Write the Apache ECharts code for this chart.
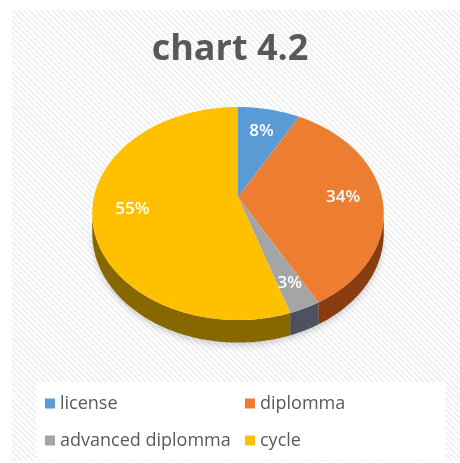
<!DOCTYPE html>
<html>
<head>
<meta charset="utf-8">
<title>chart 4.2</title>
<script src="https://cdn.jsdelivr.net/npm/echarts@6/dist/echarts.min.js"></script>
<style>
  html, body { margin: 0; padding: 0; background: #fff; }
  .frame {
    position: absolute; left: 12px; top: 10px; width: 448px; height: 451px;
    background: repeating-linear-gradient(45deg, #ffffff 0px, #ffffff 2px, #f1f1f1 2px, #f1f1f1 4px);
  }
  #main { position: absolute; left: 0; top: 0; width: 460px; height: 463px; }
</style>
</head>
<body>
<div class="frame"></div>
<div id="main"></div>
<script>
// data (percent of total)
var categories = ['license', 'diplomma', 'advanced diplomma', 'cycle']
var shares = [8, 34, 3, 55]

// office palette, top face and darker side wall
var topColors = ['#5b9bd5', '#ed7d31', '#a5a5a5', '#ffc000']
var sideColors = ['#2e5f8c', '#8b3d12', '#4d535e', '#876700']

// tilted pie geometry (perspective)
var CX = 238, CY = 197, RX = 144, RY = 104, K = 0.155, DEPTH = 19

function project(theta, r, drop) {
  var u = r * Math.sin(theta)
  var v = -r * Math.cos(theta)
  var s = 1 / (1 - K * v)
  return [CX + RX * u * s, CY + RY * v * s + (drop || 0) * s]
}

function arc(a0, a1, drop) {
  var pts = []
  var n = Math.max(2, Math.ceil((a1 - a0) / 0.02))
  for (var j = 0; j <= n; j++) {
    pts.push(project(a0 + (a1 - a0) * j / n, 1, drop))
  }
  return pts
}

var total = shares.reduce(function(a, b) { return a + b }, 0)
var visFrom = Math.acos(-K)
var visTo = Math.PI * 2 - visFrom

function renderSlice(params, api) {
  var i = params.seriesIndex
  var before = 0
  for (var j = 0; j < i; j++) before += shares[j]
  var a0 = before / total * Math.PI * 2
  var a1 = (before + api.value(0)) / total * Math.PI * 2
  var children = []

  // side wall, only the part facing the viewer
  var s0 = Math.max(a0, visFrom)
  var s1 = Math.min(a1, visTo)
  if (s1 > s0) {
    var upper = arc(s0, s1, 0)
    var lower = arc(s0, s1, DEPTH).reverse()
    children.push({
      type: 'polygon',
      shape: { points: upper.concat(lower) },
      style: {
        fill: sideColors[i],
        shadowBlur: 6,
        shadowOffsetY: 3,
        shadowColor: 'rgba(0,0,0,0.18)'
      }
    })
  }

  // top face
  children.push({
    type: 'polygon',
    shape: { points: [project(0, 0, 0)].concat(arc(a0, a1, 0)) },
    style: { fill: topColors[i] }
  })

  // label, thin slices sit a bit further out
  var mid = (a0 + a1) / 2
  var r = (a1 - a0) < 0.3 ? 0.8 : 0.73
  var p = project(mid, r, 0)
  children.push({
    type: 'text',
    x: p[0],
    y: p[1],
    style: {
      text: Math.round(api.value(0) / total * 100) + '%',
      fill: '#ffffff',
      font: '600 17px "Open Sans"',
      align: 'center',
      verticalAlign: 'middle'
    }
  })

  return { type: 'group', children: children }
}

var chart = echarts.init(document.getElementById('main'))
chart.setOption({
  backgroundColor: 'transparent',
  animation: false,
  title: {
    text: 'chart 4.2',
    left: 'center',
    top: 27,
    textStyle: {
      fontFamily: 'Open Sans',
      fontWeight: 'bold',
      fontSize: 36,
      color: '#595959'
    }
  },
  legend: {
    data: categories,
    left: 36,
    top: 382,
    width: 400,
    padding: [8, 10, 6, 9],
    backgroundColor: '#ffffff',
    icon: 'rect',
    itemWidth: 10,
    itemHeight: 10,
    itemGap: 10,
    selectedMode: false,
    textStyle: {
      fontFamily: 'Open Sans',
      fontSize: 18,
      color: '#595959',
      width: 175,
      lineHeight: 27
    }
  },
  series: categories.map(function(name, i) {
    return {
      name: name,
      type: 'custom',
      coordinateSystem: 'none',
      itemStyle: { color: topColors[i] },
      silent: true,
      renderItem: renderSlice,
      data: [[shares[i]]]
    }
  })
})
</script>
</body>
</html>
